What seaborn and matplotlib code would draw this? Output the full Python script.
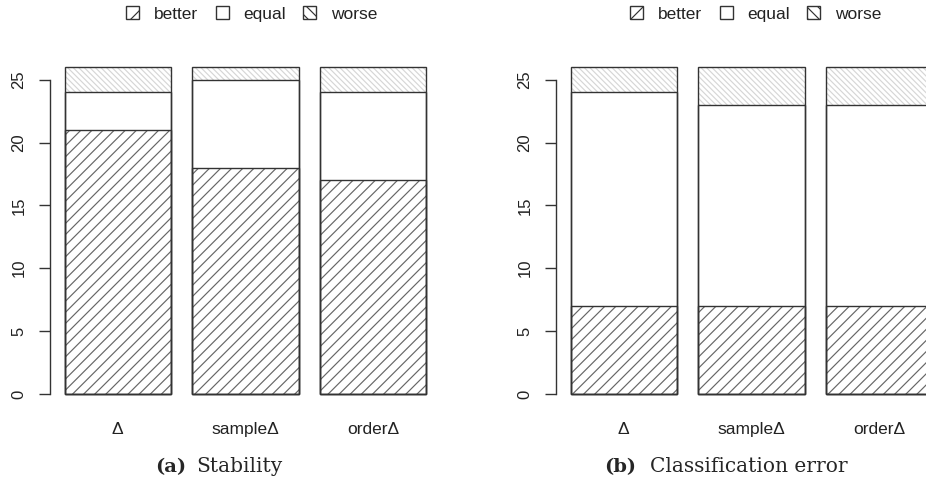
import pandas as pd
import seaborn as sns
import matplotlib.pyplot as plt
from matplotlib.patches import Patch

# Data ------------------------------------------------------------------------

methods = ["Δ", "sampleΔ", "orderΔ"]
categories = ["better", "equal", "worse"]

stab_better = [21, 18, 17]
stab_equal = [3, 7, 7]
stab_worse = [2, 1, 2]

err_better = [7, 7, 7]
err_equal = [17, 16, 16]
err_worse = [2, 3, 3]

# Style -----------------------------------------------------------------------

sns.set_style("white")
plt.rcParams["font.family"] = ["Liberation Sans", "DejaVu Sans"]
plt.rcParams["hatch.linewidth"] = 0.85

edge = "#333333"
hatches = {"better": ("///", "#666666"), "equal": (None, None), "worse": ("\\\\\\\\\\\\", "#d6d6d6")}
legend_hatches = {"better": "//", "equal": None, "worse": "\\\\\\"}
bar_w = 0.833


def stacked(ax, better, equal, worse):
    df = pd.DataFrame({"method": methods, "better": better, "equal": equal, "worse": worse})
    df["mid"] = df["better"] + df["equal"]
    df["top"] = df["mid"] + df["worse"]

    # fills with hatch, drawn back to front
    for col, cat in [("top", "worse"), ("mid", "equal"), ("better", "better")]:
        n = len(ax.patches)
        sns.barplot(data = df, x = "method", y = col, color = "white", width = bar_w,
                    errorbar = None, saturation = 1, linewidth = 0, ax = ax)
        hatch, hcol = hatches[cat]
        for p in ax.patches[n:]:
            p.set_facecolor("white")
            if hatch:
                p.set_hatch(hatch)
                p.set_edgecolor(hcol)
            p.set_linewidth(0)

    # outlines
    for col in ["top", "mid", "better"]:
        sns.barplot(data = df, x = "method", y = col, fill = False, color = edge, width = bar_w,
                    errorbar = None, linewidth = 1.0, ax = ax)

    ax.set_xlim(-0.53, 2.53)
    ax.set_ylim(-1.04, 27.04)
    ax.set_xlabel("")
    ax.set_ylabel("")
    for s in ["top", "right", "bottom"]:
        ax.spines[s].set_visible(False)
    ax.spines["left"].set_bounds(0, 25)
    ax.spines["left"].set_color(edge)
    ax.spines["left"].set_linewidth(1)
    ax.set_yticks([0, 5, 10, 15, 20, 25])
    ax.set_yticklabels(["0", "5", "10", "15", "20", "25"], rotation = 90, va = "center")
    ax.tick_params(axis = "y", left = True, length = 8, width = 1, color = edge, pad = 9,
                   labelsize = 12, labelcolor = "#222222")
    ax.tick_params(axis = "x", bottom = False, length = 0, pad = 11, labelsize = 12.5,
                   labelcolor = "#222222")


def legend(fig, xc):
    handles = [Patch(facecolor = "white", edgecolor = edge, hatch = legend_hatches[c], linewidth = 1)
               for c in categories]
    leg = fig.legend(handles, categories, loc = "center", bbox_to_anchor = (xc, 1 - 14 / 479),
                     ncol = 3, frameon = False, fontsize = 12.5, handlelength = 0.75,
                     handleheight = 0.75, handletextpad = 0.85, columnspacing = 1.0)
    for t in leg.get_texts():
        t.set_color("#222222")
    return leg


# Figure ----------------------------------------------------------------------

W, H = 926, 479
fig = plt.figure(figsize = (W / 100, H / 100), dpi = 100)

ax1 = fig.add_axes([50 / W, 1 - 407 / H, 391 / W, 353 / H])
ax2 = fig.add_axes([556 / W, 1 - 407 / H, 391 / W, 353 / H])

stacked(ax1, stab_better, stab_equal, stab_worse)
stacked(ax2, err_better, err_equal, err_worse)

legend(fig, 252 / W)
legend(fig, 756 / W)

yb = 1 - 472 / H
fig.text(186 / W, yb, "(a)", ha = "right", va = "baseline", family = "DejaVu Serif",
         weight = "bold", fontsize = 14)
fig.text(196 / W, yb, "Stability", ha = "left", va = "baseline", family = "DejaVu Serif",
         fontsize = 14.5)
fig.text(636 / W, yb, "(b)", ha = "right", va = "baseline", family = "DejaVu Serif",
         weight = "bold", fontsize = 14)
fig.text(650 / W, yb, "Classification error", ha = "left", va = "baseline",
         family = "DejaVu Serif", fontsize = 14.5)

fig.savefig("out.png", dpi = 100)
